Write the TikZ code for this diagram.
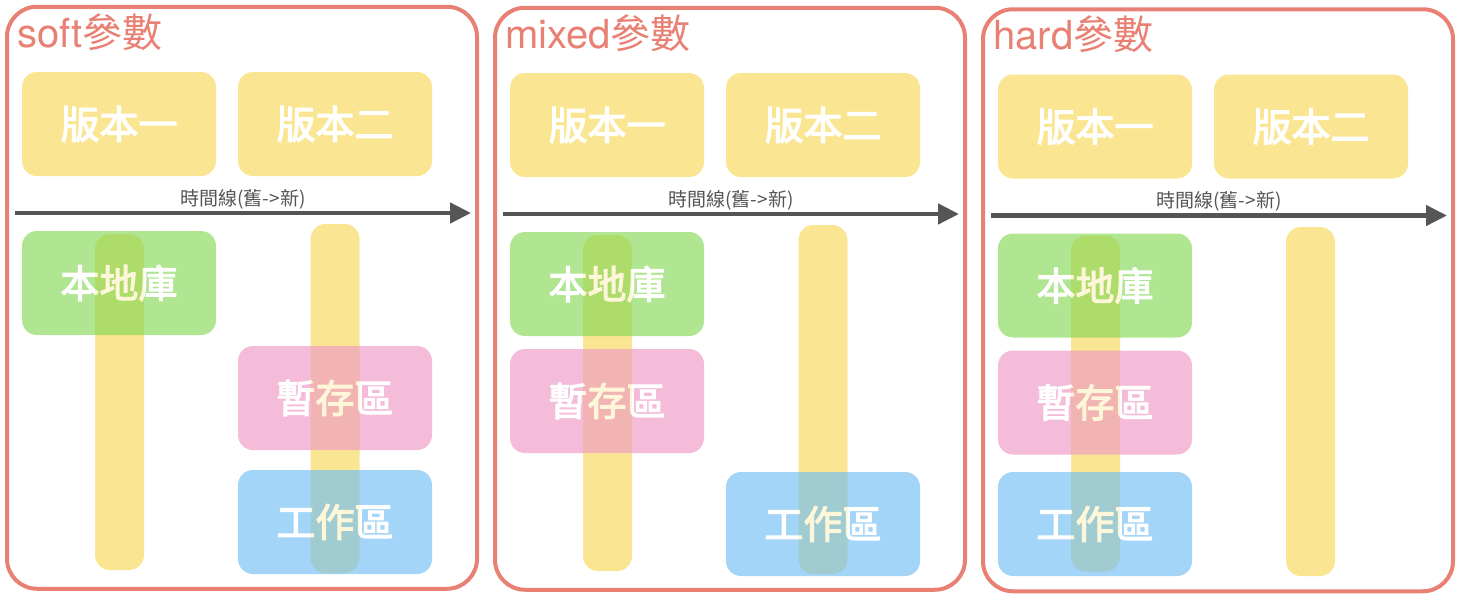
\documentclass[tikz,border=0pt]{standalone}
\usepackage{fontspec}
\newfontfamily\cjk{Noto Sans CJK TC}
\newfontfamily\cjkmed[FakeBold=3]{Noto Sans CJK TC}
\newfontfamily\latin{TeX Gyre Heros}
\usetikzlibrary{arrows.meta}
\definecolor{cframe}{RGB}{232,128,116}
\definecolor{cver}{RGB}{250,230,146}
\definecolor{crepo}{RGB}{133,215,86}
\definecolor{cstage}{RGB}{238,152,197}
\definecolor{cwork}{RGB}{113,190,244}
\definecolor{cline}{RGB}{85,85,85}
\begin{document}
\begin{tikzpicture}[x=1pt, y=-1pt,
    panel/.style={draw=cframe, line width=4pt, rounded corners=30pt,
                  minimum width=470pt, minimum height=582pt},
    title/.style={text=cframe, anchor=base west, inner sep=0pt,
                  font=\fontsize{40}{40}\selectfont},
    card/.style={rounded corners=15pt, minimum width=194pt, minimum height=104pt,
                 text=white, font=\cjkmed\fontsize{39}{39}\selectfont},
    bar/.style={fill=cver, rounded corners=15pt, minimum width=49pt},
    timeline/.style={draw=cline, line width=4.5pt, -{Triangle[length=21pt,width=20pt]}},
    tlabel/.style={text=cline, font=\cjk\fontsize{19}{19}\selectfont, yshift=14pt}]
    \useasboundingbox (0,0) rectangle (1468,600);

    \begin{scope}
        \node[panel] (s-frame) at (242,297.75) {};
        \node[title] (s-title) at (17,47) {{\latin soft}{\cjk 參數}};
        \node[card, fill=cver] (s-v1) at (119,124) {版本一};
        \node[card, fill=cver] (s-v2) at (335,124) {版本二};
        \coordinate (s-old) at (15,213);
        \coordinate (s-new) at (471,213);
        \draw[timeline] (s-old) -- (s-new) node[midway, tlabel] (s-time) {時間線(舊->新)};
        \node[bar, minimum height=336pt] (s-bar1) at (119.5,402) {};
        \node[bar, minimum height=349pt] (s-bar2) at (335,398.5) {};
        \begin{scope}[transparency group, opacity=.65]
            \node[card, fill=crepo] (s-repo) at (119,283) {本地庫};
            \node[card, fill=cstage] (s-stage) at (335,398) {暫存區};
            \node[card, fill=cwork] (s-work) at (335,522) {工作區};
        \end{scope}
    \end{scope}

    \begin{scope}[xshift=488pt, yshift=-1pt]
        \node[panel] (m-frame) at (242,297.75) {};
        \node[title] (m-title) at (17,47) {{\latin mixed}{\cjk 參數}};
        \node[card, fill=cver] (m-v1) at (119,124) {版本一};
        \node[card, fill=cver] (m-v2) at (335,124) {版本二};
        \coordinate (m-old) at (15,213);
        \coordinate (m-new) at (471,213);
        \draw[timeline] (m-old) -- (m-new) node[midway, tlabel] (m-time) {時間線(舊->新)};
        \node[bar, minimum height=336pt] (m-bar1) at (119.5,402) {};
        \node[bar, minimum height=349pt] (m-bar2) at (335,398.5) {};
        \begin{scope}[transparency group, opacity=.65]
            \node[card, fill=crepo] (m-repo) at (119,283) {本地庫};
            \node[card, fill=cstage] (m-stage) at (119,400) {暫存區};
            \node[card, fill=cwork] (m-work) at (335,523) {工作區};
        \end{scope}
    \end{scope}

    \begin{scope}[xshift=976pt, yshift=-2.5pt]
        \node[panel] (h-frame) at (242,297.75) {};
        \node[title] (h-title) at (17,47) {{\latin hard}{\cjk 參數}};
        \node[card, fill=cver] (h-v1) at (119,124) {版本一};
        \node[card, fill=cver] (h-v2) at (335,124) {版本二};
        \coordinate (h-old) at (15,213);
        \coordinate (h-new) at (471,213);
        \draw[timeline] (h-old) -- (h-new) node[midway, tlabel] (h-time) {時間線(舊->新)};
        \node[bar, minimum height=336pt] (h-bar1) at (119.5,401) {};
        \node[bar, minimum height=349pt] (h-bar2) at (334.5,399) {};
        \begin{scope}[transparency group, opacity=.65]
            \node[card, fill=crepo] (h-repo) at (119,283) {本地庫};
            \node[card, fill=cstage] (h-stage) at (119,400) {暫存區};
            \node[card, fill=cwork] (h-work) at (119,521.5) {工作區};
        \end{scope}
    \end{scope}
\end{tikzpicture}
\end{document}
